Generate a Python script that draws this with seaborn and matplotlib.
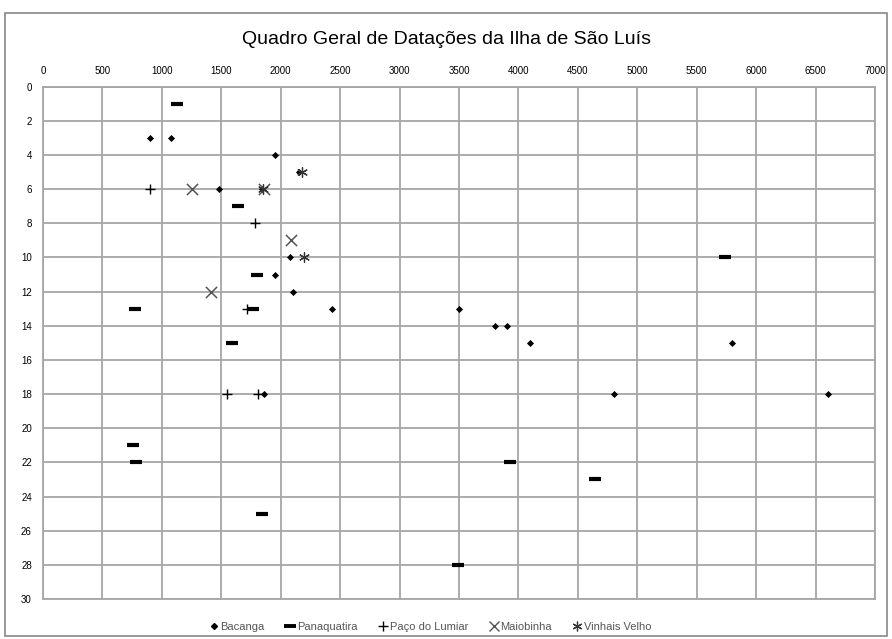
import matplotlib
matplotlib.use("Agg")
import matplotlib.pyplot as plt
import seaborn as sns
import pandas as pd
from matplotlib.lines import Line2D
from matplotlib.patches import Rectangle

sns.set_theme(style="white")
plt.rcParams['font.family'] = ['Liberation Sans', 'DejaVu Sans']

title = "Quadro Geral de Datações da Ilha de São Luís"
series_names = ["Bacanga", "Panaquatira", "Paço do Lumiar", "Maiobinha", "Vinhais Velho"]

bacanga_x = [900, 1080, 1950, 2150, 1480, 1840, 2075, 1950, 2100, 2430, 3500, 3800, 3900, 4100, 5800, 4800, 6600, 1860]
bacanga_y = [3, 3, 4, 5, 6, 6, 10, 11, 12, 13, 13, 14, 14, 15, 15, 18, 18, 18]

panaquatira_x = [1130, 1640, 1800, 5740, 770, 1765, 1590, 760, 780, 1845, 3925, 4640, 3490]
panaquatira_y = [1, 7, 11, 10, 13, 13, 15, 21, 22, 25, 22, 23, 28]

paco_x = [900, 1780, 1720, 1545, 1810]
paco_y = [6, 8, 13, 18, 18]

maiobinha_x = [1250, 1860, 2090, 1410]
maiobinha_y = [6, 6, 9, 12]

vinhais_x = [2175, 1850, 2195]
vinhais_y = [5, 6, 10]

x_ticks = list(range(0, 7001, 500))
y_ticks = list(range(0, 31, 2))

data = {
    "Bacanga": (bacanga_x, bacanga_y),
    "Panaquatira": (panaquatira_x, panaquatira_y),
    "Paço do Lumiar": (paco_x, paco_y),
    "Maiobinha": (maiobinha_x, maiobinha_y),
    "Vinhais Velho": (vinhais_x, vinhais_y),
}

styles = {
    "Bacanga": dict(marker="D", s=13, color="black", linewidth=0),
    "Panaquatira": dict(marker="_", s=80, color="black", linewidth=3.0),
    "Paço do Lumiar": dict(marker="+", s=55, color="black", linewidth=1.0),
    "Maiobinha": dict(marker="x", s=65, color="#555555", linewidth=1.1),
    "Vinhais Velho": dict(marker=(6, 2, 0), s=50, color="#333333", linewidth=0.9),
}

fig = plt.figure(figsize=(8.92, 6.39), dpi=100)
ax = fig.add_axes([0.0482, 0.0626, 0.9328, 0.8017])

for name in series_names:
    xs, ys = data[name]
    df = pd.DataFrame({"x": xs, "y": ys})
    st = styles[name]
    sns.scatterplot(data=df, x="x", y="y", ax=ax, marker=st["marker"], s=st["s"],
                    color=st["color"], linewidth=st["linewidth"], zorder=3,
                    edgecolor=st["color"] if st["marker"] == "D" else None)

ax.set_xlim(0, 7000)
ax.set_ylim(30, 0)
ax.set_xticks(x_ticks)
ax.set_yticks(y_ticks)
ax.xaxis.tick_top()
ax.set_xlabel("")
ax.set_ylabel("")
ax.tick_params(axis="both", labelsize=7, length=0, pad=8, colors="black")
ax.grid(True, color="#a6a6a6", linewidth=1.3)
for sp in ax.spines.values():
    sp.set_color("#a6a6a6")
    sp.set_linewidth(1.3)

handles = [
    Line2D([], [], linestyle="none", marker="D", markersize=3, color="black"),
    Line2D([], [], linestyle="none", marker="_", markersize=8, markeredgewidth=2.8, color="black"),
    Line2D([], [], linestyle="none", marker="+", markersize=7, markeredgewidth=1, color="black"),
    Line2D([], [], linestyle="none", marker="x", markersize=7, markeredgewidth=1, color="#555555"),
    Line2D([], [], linestyle="none", marker=(6, 2, 0), markersize=7, markeredgewidth=0.9, color="#333333"),
]
ax.legend(handles, series_names, loc="upper center", bbox_to_anchor=(0.465, -0.025),
          ncol=5, frameon=False, fontsize=8, handletextpad=0.1, columnspacing=1.8,
          handlelength=1.0, labelcolor="#555555")

fig.text(0.5, 0.938, title, ha="center", va="center", fontsize=14, color="black")
fig.patches.append(Rectangle((0.006, 0.005), 0.988, 0.975, transform=fig.transFigure,
                             fill=False, edgecolor="#888888", linewidth=1.2))

fig.savefig("out.png", dpi=100)
